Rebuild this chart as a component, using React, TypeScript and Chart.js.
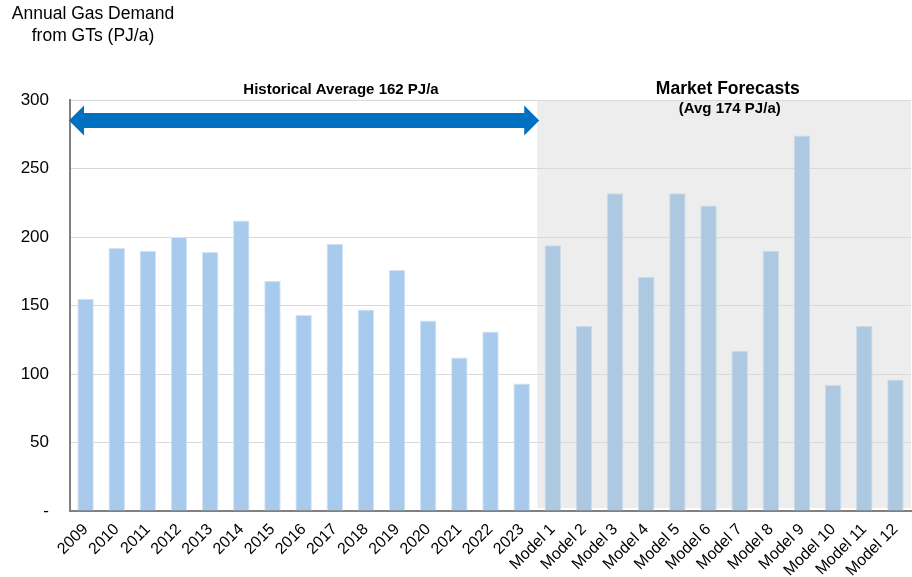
import React, { useEffect, useRef } from "react";
import { Chart, registerables } from "chart.js";

Chart.register(...registerables);

const historicalYears = ["2009", "2010", "2011", "2012", "2013", "2014", "2015", "2016", "2017", "2018", "2019", "2020", "2021", "2022", "2023"];
const historicalValues = [155, 192, 190, 200, 189, 212, 168, 143, 195, 147, 176, 139, 112, 131, 93];
const forecastModels = ["Model 1", "Model 2", "Model 3", "Model 4", "Model 5", "Model 6", "Model 7", "Model 8", "Model 9", "Model 10", "Model 11", "Model 12"];
const forecastValues = [194, 135, 232, 171, 232, 223, 117, 190, 274, 92, 135, 96];
const yTickValues = [0, 50, 100, 150, 200, 250, 300];
const yTickLabels = ["-", "50", "100", "150", "200", "250", "300"];
const titleLines = ["Annual Gas Demand", "from GTs (PJ/a)"];
const historicalLabel = "Historical Average 162 PJ/a";
const forecastLabel = "Market Forecasts";
const forecastSubLabel = "(Avg 174 PJ/a)";

const FONT = "'Liberation Sans', Arial, sans-serif";

export default function App() {
  const canvasRef = useRef<HTMLCanvasElement | null>(null);

  useEffect(() => {
    document.body.style.margin = "0";
    const canvas = canvasRef.current;
    if (!canvas) return;

    const labels = [...historicalYears, ...forecastModels];
    const nHist = historicalYears.length;
    const data = [...historicalValues, ...forecastValues];
    const bg = labels.map((_, i) => (i < nHist ? "#A8CAEC" : "#ADC8E1"));
    const bc = labels.map((_, i) => (i < nHist ? "#D2E4F6" : "#CCDCEB"));

    const overlay = {
      id: "overlay",
      beforeDraw(chart: any) {
        const { ctx, chartArea, scales } = chart;
        const xs = scales.x;
        const split = xs.getPixelForValue(nHist - 0.5);
        ctx.save();
        ctx.fillStyle = "#EDEDED";
        ctx.fillRect(split, chartArea.top, chartArea.right - split, chartArea.bottom - chartArea.top - 3);
        ctx.restore();
      },
      afterDraw(chart: any) {
        const { ctx, chartArea, scales } = chart;
        const xs = scales.x;
        const ys = scales.y;
        const split = xs.getPixelForValue(nHist - 0.5);
        const yc = ys.getPixelForValue(285);
        const x0 = chartArea.left - 1;
        const x1 = split + 2;
        const shaft = 7.5;
        const head = 15;
        const headLen = 15;
        ctx.save();
        ctx.fillStyle = "#0070C0";
        ctx.beginPath();
        ctx.moveTo(x0, yc);
        ctx.lineTo(x0 + headLen, yc - head);
        ctx.lineTo(x0 + headLen, yc - shaft);
        ctx.lineTo(x1 - headLen, yc - shaft);
        ctx.lineTo(x1 - headLen, yc - head);
        ctx.lineTo(x1, yc);
        ctx.lineTo(x1 - headLen, yc + head);
        ctx.lineTo(x1 - headLen, yc + shaft);
        ctx.lineTo(x0 + headLen, yc + shaft);
        ctx.lineTo(x0 + headLen, yc + head);
        ctx.closePath();
        ctx.fill();

        ctx.fillStyle = "#000";
        ctx.textAlign = "center";
        ctx.textBaseline = "middle";
        ctx.font = `bold 15px ${FONT}`;
        ctx.fillText(historicalLabel, xs.getPixelForValue(8.2), ys.getPixelForValue(307.3));
        ctx.font = `bold 17.5px ${FONT}`;
        ctx.fillText(forecastLabel, xs.getPixelForValue(20.62), ys.getPixelForValue(307.8));
        ctx.font = `bold 15px ${FONT}`;
        ctx.fillText(forecastSubLabel, xs.getPixelForValue(20.68), ys.getPixelForValue(293.8));

        ctx.font = `17.5px ${FONT}`;
        const tx = 93;
        ctx.fillText(titleLines[0], tx, 14);
        ctx.fillText(titleLines[1], tx, 36);
        ctx.restore();
      },
    };

    const chart = new Chart(canvas, {
      type: "bar",
      data: {
        labels,
        datasets: [
          {
            data,
            backgroundColor: bg,
            borderColor: bc,
            borderWidth: 1,
            barPercentage: 0.53,
            categoryPercentage: 1,
          },
        ],
      },
      options: {
        animation: false,
        responsive: false,
        maintainAspectRatio: false,
        layout: { padding: { top: 100, left: 0, right: 1, bottom: 0 } },
        plugins: {
          legend: { display: false },
          tooltip: { enabled: false },
          title: { display: false },
        },
        scales: {
          x: {
            grid: { display: false, drawTicks: false },
            border: { display: true, color: "#808080", width: 2 },
            afterFit(scale: any) {
              scale.height = 66;
              scale.paddingLeft = 0;
              scale.paddingRight = 0;
            },
            ticks: {
              autoSkip: false,
              maxRotation: 45,
              minRotation: 45,
              padding: 9,
              color: "#000",
              font: { family: FONT, size: 16 },
            },
          },
          y: {
            min: 0,
            max: 300,
            afterFit(scale: any) {
              scale.width = 70;
              scale.paddingTop = 0;
              scale.paddingBottom = 0;
            },
            afterBuildTicks(scale: any) {
              scale.ticks = yTickValues.map((v) => ({ value: v }));
            },
            grid: { color: "#D9D9D9", lineWidth: 1, drawTicks: false },
            border: { display: true, color: "#808080", width: 2 },
            ticks: {
              padding: 21,
              color: "#000",
              font: { family: FONT, size: 17 },
              callback: (v: any) => {
                const i = yTickValues.indexOf(Number(v));
                return i >= 0 ? yTickLabels[i] : "";
              },
            },
          },
        },
      },
      plugins: [overlay],
    });

    return () => chart.destroy();
  }, []);

  return (
    <div style={{ width: 912, height: 577 }}>
      <canvas ref={canvasRef} width={912} height={577} style={{ display: "block" }} />
    </div>
  );
}
